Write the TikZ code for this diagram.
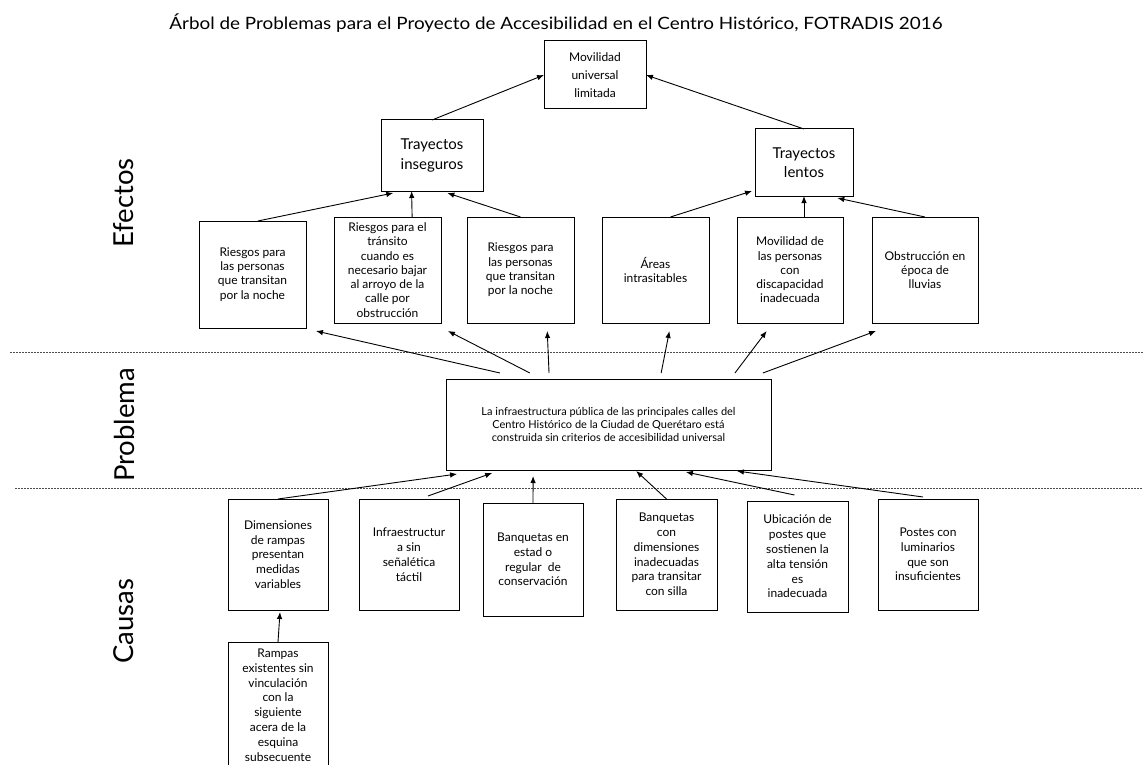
\documentclass[tikz,border=0pt]{standalone}
\usepackage{fontspec}
\setmainfont{Lato}
\usetikzlibrary{calc,arrows.meta}

\begin{document}
\begin{tikzpicture}[x=1pt,y=-1pt,inner sep=0pt,outer sep=0pt,
    caja/.style={draw,line width=1pt,align=center},
    txt_ef/.style={font=\fontsize{12}{14.3}\selectfont},
    txt_ca/.style={font=\fontsize{12}{14.8}\selectfont},
    nivel/.style={rotate=90,font=\fontsize{27.5}{30}\selectfont},
    flecha/.style={-{Latex[length=7pt,width=5.5pt]},line width=0.9pt},
    separador/.style={dash pattern=on 2pt off 1pt,line width=0.8pt,black!70}]
    \useasboundingbox (0,0) rectangle (1143,765);

    % titulo
    \node (titulo) at (556,23)
    {\scalebox{1.11}[1]{\fontsize{17}{18}\selectfont Árbol de Problemas para el Proyecto de Accesibilidad en el Centro Histórico, FOTRADIS 2016}};

    % niveles
    \node[nivel] (lbl_ef) at (124,203) {Efectos};
    \node[nivel] (lbl_pr) at (124,425) {Problema};
    \node[nivel] (lbl_ca) at (124,621) {Causas};
    \draw[separador] (10,352) -- (1143,352);
    \draw[separador] (15,488) -- (1143,488);

    % efectos
    \node[caja, minimum width=102, minimum height=68, font=\fontsize{12}{18}\selectfont] (mov_lim) at (595,75)
    {Movilidad\\universal\\limitada};
    \node[caja, minimum width=102, minimum height=71, font=\fontsize{15}{19.5}\selectfont] (tray_ins) at (432,155.5)
    {Trayectos\\inseguros};
    \node[caja, minimum width=98, minimum height=67, font=\fontsize{15}{19.5}\selectfont] (tray_len) at (804,162.5)
    {Trayectos\\lentos};

    \node[caja, txt_ef, minimum width=107, minimum height=107] (ef_r1) at (252.5,274.5)
    {Riesgos para\\las personas\\que transitan\\por la noche};
    \node[caja, txt_ef, minimum width=107, minimum height=106] (ef_r2) at (387.5,270)
    {Riesgos para el\\tránsito\\cuando es\\necesario bajar\\al arroyo de la\\calle por\\obstrucción};
    \node[caja, txt_ef, minimum width=107, minimum height=106] (ef_r3) at (520.5,270)
    {Riesgos para\\las personas\\que transitan\\por la noche};
    \node[caja, txt_ef, minimum width=107, minimum height=106] (ef_r4) at (655.5,270)
    {Áreas\\intrasitables};
    \node[caja, txt_ef, minimum width=106, minimum height=106] (ef_r5) at (790,270)
    {Movilidad de\\las personas\\con\\discapacidad\\inadecuada};
    \node[caja, txt_ef, minimum width=106, minimum height=106] (ef_r6) at (925,270)
    {Obstrucción en\\época de\\lluvias};

    \draw[flecha] (tray_ins.north) -- (mov_lim.west);
    \draw[flecha] (tray_len.north) -- (mov_lim.east);

    \draw[flecha] ($(ef_r1.north west)!0.55!(ef_r1.north east)$) -- ($(tray_ins.south west)!0.12!(tray_ins.south east)+(0,2)$);
    \draw[flecha] ($(ef_r2.north west)!0.73!(ef_r2.north east)$) -- ($(tray_ins.south west)!0.30!(tray_ins.south east)$);
    \draw[flecha] (ef_r3.north) -- ($(tray_ins.south west)!0.65!(tray_ins.south east)+(0,2)$);
    \draw[flecha] ($(ef_r4.north west)!0.64!(ef_r4.north east)$) -- ($(tray_len.south west)+(-3,-5)$);
    \draw[flecha] (tray_len.south |- ef_r5.north) -- (tray_len.south);
    \draw[flecha] (ef_r6.north) -- ($(tray_len.south west)!0.84!(tray_len.south east)+(0,2)$);

    % problema
    \node[caja, minimum width=325, minimum height=91, font=\fontsize{11}{13.3}\selectfont] (prob) at (608.5,424.5)
    {La infraestructura pública de las principales calles del\\Centro Histórico de la Ciudad de Querétaro está\\construida sin criterios de accesibilidad universal};

    \draw[flecha] ($(prob.north west)!0.166!(prob.north east)+(0,-6)$) -- ($(ef_r1.south east)+(10,3)$);
    \draw[flecha] ($(prob.north west)!0.258!(prob.north east)+(0,-6)$) -- ($(ef_r2.south east)+(7,8)$);
    \draw[flecha] ($(prob.north west)!0.317!(prob.north east)+(0,-6)$) -- ($(ef_r3.south west)!0.75!(ef_r3.south east)+(0,8)$);
    \draw[flecha] ($(prob.north west)!0.662!(prob.north east)+(0,-6)$) -- ($(ef_r4.south west)!0.63!(ef_r4.south east)+(0,8)$);
    \draw[flecha] ($(prob.north west)!0.889!(prob.north east)+(0,-6)$) -- ($(ef_r5.south west)!0.28!(ef_r5.south east)+(0,8)$);
    \draw[flecha] ($(prob.north west)!0.975!(prob.north east)+(0,-6)$) -- ($(ef_r6.south west)+(4,8)$);

    % causas
    \node[caja, txt_ca, minimum width=100, minimum height=111] (ca_c1) at (278,554.5)
    {Dimensiones\\de rampas\\presentan\\medidas\\variables};
    \node[caja, txt_ca, minimum width=100, minimum height=111] (ca_c2) at (409,554.5)
    {Infraestructur\\a sin\\señalética\\táctil};
    \node[caja, txt_ca, minimum width=100, minimum height=113] (ca_c3) at (533,559.5)
    {Banquetas en\\estad o\\regular~ de\\conservación};
    \node[caja, txt_ca, minimum width=101, minimum height=111] (ca_c4) at (666.5,554.5)
    {Banquetas\\con\\dimensiones\\inadecuadas\\para transitar\\con silla};
    \node[caja, txt_ca, minimum width=101, minimum height=111] (ca_c5) at (797.5,556.5)
    {Ubicación de\\postes que\\sostienen la\\alta tensión\\es\\inadecuada};
    \node[caja, txt_ca, minimum width=100, minimum height=111] (ca_c6) at (928,554.5)
    {Postes con\\luminarios\\que son\\insuficientes};
    \node[caja, txt_ca, minimum width=100, minimum height=126] (ca_c7) at (278,705)
    {Rampas\\existentes sin\\vinculación\\con la\\siguiente\\acera de la\\esquina\\subsecuente};

    \draw[flecha] (ca_c1.north) -- ($(prob.south west)!0.034!(prob.south east)+(0,4)$);
    \draw[flecha] ($(ca_c2.north west)!0.69!(ca_c2.north east)+(0,-3)$) -- ($(prob.south west)!0.142!(prob.south east)+(0,3)$);
    \draw[flecha] (ca_c3.north) -- ($(prob.south west)!0.268!(prob.south east)+(0,6)$);
    \draw[flecha] (ca_c4.north) -- ($(prob.south west)!0.585!(prob.south east)+(0,1)$);
    \draw[flecha] ($(ca_c5.north west)!0.47!(ca_c5.north east)+(0,-6)$) -- ($(prob.south west)!0.738!(prob.south east)+(0,2)$);
    \draw[flecha] ($(ca_c6.north west)!0.45!(ca_c6.north east)+(0,-2)$) -- ($(prob.south west)!0.895!(prob.south east)+(0,1)$);
    \draw[flecha] (ca_c7.north) -- ($(ca_c1.south)+(2,2)$);

\end{tikzpicture}
\end{document}
